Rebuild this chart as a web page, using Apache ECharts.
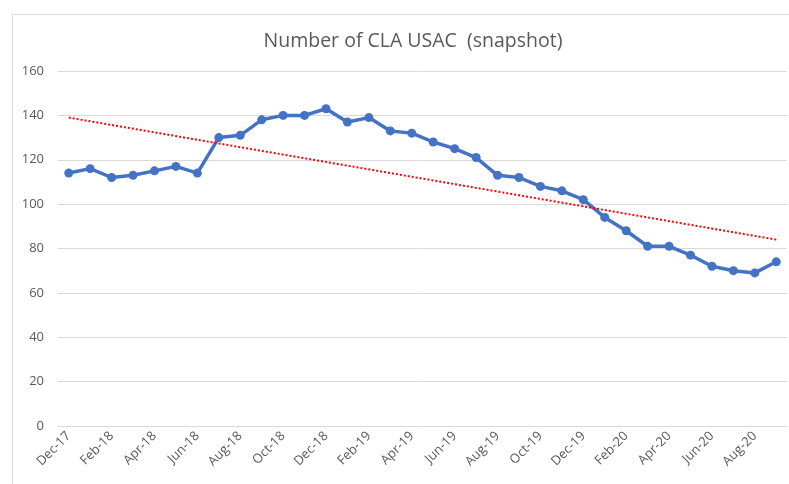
<!DOCTYPE html>
<html>
<head>
    <meta charset="utf-8">
    <script src="https://cdn.jsdelivr.net/npm/echarts@6/dist/echarts.min.js"></script>
    <style type="text/css">
        html, body { margin: 0; padding: 0; background: #fff; }
        #main { width: 789px; height: 484px; }
    </style>
</head>
<body>
    <div id="main"></div>
    <script>
        // monthly snapshot, Dec-17 .. Sep-20
        const months = ['Dec-17', 'Jan-18', 'Feb-18', 'Mar-18', 'Apr-18', 'May-18', 'Jun-18', 'Jul-18',
            'Aug-18', 'Sep-18', 'Oct-18', 'Nov-18', 'Dec-18', 'Jan-19', 'Feb-19', 'Mar-19', 'Apr-19',
            'May-19', 'Jun-19', 'Jul-19', 'Aug-19', 'Sep-19', 'Oct-19', 'Nov-19', 'Dec-19', 'Jan-20',
            'Feb-20', 'Mar-20', 'Apr-20', 'May-20', 'Jun-20', 'Jul-20', 'Aug-20', 'Sep-20'];
        const usacCount = [114, 116, 112, 113, 115, 117, 114, 130, 131, 138, 140, 140, 143, 137, 139,
            133, 132, 128, 125, 121, 113, 112, 108, 106, 102, 94, 88, 81, 81, 77, 72, 70, 69, 74];
        // trend line end values
        const trendStart = 139;
        const trendEnd = 84;

        const trend = months.map((m, i) => i === 0 ? trendStart : (i === months.length - 1 ? trendEnd : null));

        const grey = '#595959';
        const font = '"Open Sans", sans-serif';

        const myChart = echarts.init(document.getElementById('main'));
        myChart.setOption({
            animation: false,
            title: {
                text: 'Number of CLA USAC  (snapshot)',
                left: 408,
                textAlign: 'center',
                top: 26,
                textStyle: { fontFamily: font, fontSize: 19.5, fontWeight: 'normal', color: grey }
            },
            graphic: [{
                type: 'rect',
                shape: { x: 12.5, y: 14.5, width: 800, height: 500 },
                style: { fill: 'none', stroke: '#d9d9d9', lineWidth: 1 },
                silent: true
            }],
            grid: { left: 58, right: 2, top: 71, bottom: 58 },
            xAxis: {
                type: 'category',
                data: months,
                boundaryGap: true,
                axisLine: { lineStyle: { color: '#d9d9d9', width: 1 } },
                axisTick: { interval: 1, length: 5, lineStyle: { color: '#d9d9d9' } },
                axisLabel: {
                    interval: 1, rotate: 45, margin: 8,
                    fontFamily: font, fontSize: 13, color: grey
                }
            },
            yAxis: {
                type: 'value',
                min: 0, max: 160, interval: 20,
                axisLine: { show: false },
                axisTick: { show: false },
                axisLabel: { margin: 14, fontFamily: font, fontSize: 13, color: grey },
                splitLine: { lineStyle: { color: '#d9d9d9', width: 1 } }
            },
            series: [{
                name: 'USAC',
                type: 'line',
                data: usacCount,
                symbol: 'circle',
                symbolSize: 9,
                itemStyle: { color: '#4472C4' },
                lineStyle: { color: '#4472C4', width: 3.5 },
                z: 3
            }, {
                name: 'Trend',
                type: 'line',
                data: trend,
                connectNulls: true,
                symbol: 'none',
                lineStyle: { color: '#ff0000', width: 2, type: [2, 2] },
                z: 4
            }]
        });
    </script>
</body>
</html>
